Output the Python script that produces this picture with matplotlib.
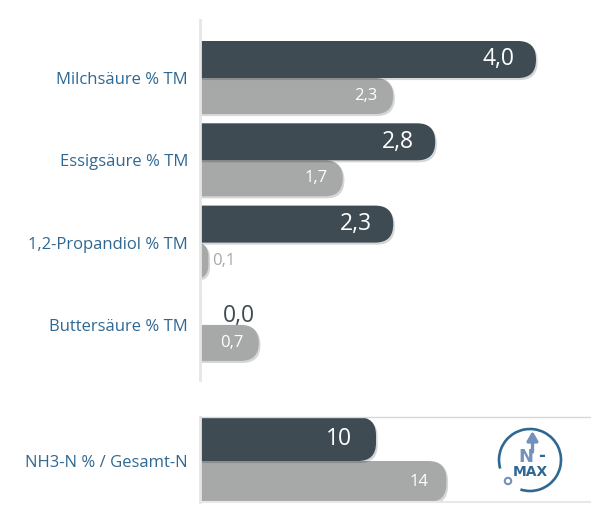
import matplotlib
matplotlib.use("Agg")
import matplotlib.pyplot as plt
import matplotlib.patheffects as pe
from matplotlib.patches import FancyBboxPatch, Arc, Circle

# data
categories = ["Milchsäure % TM", "Essigsäure % TM", "1,2-Propandiol % TM", "Buttersäure % TM"]
dark_values = [4.0, 2.8, 2.3, 0.0]
gray_values = [2.3, 1.7, 0.1, 0.7]

nh3_category = "NH3-N % / Gesamt-N"
nh3_dark = [10]
nh3_gray = [14]

# style
DARK = "#3e4b53"
GRAY = "#a7a9a9"
BLUE = "#2f6892"
LOGO_LIGHT = "#7391bb"
plt.rcParams["font.family"] = ["Open Sans", "DejaVu Sans"]

W, H, DPI = 591, 520, 100
fig = plt.figure(figsize=(W / DPI, H / DPI), dpi=DPI)
fig.patch.set_facecolor("white")


def fmt(v, decimals):
    return f"{v:.{decimals}f}".replace(".", ",")


def add_axes_px(left, top, right, bottom):
    return fig.add_axes([left / W, 1 - bottom / H, (right - left) / W, (bottom - top) / H])


def rounded_bar(ax, y0, height, value, color, px_x, px_y, r_px=18.0):
    # bar starts left of zero so the left rounding gets clipped by the axes
    start = -r_px / px_x
    width_px = value * px_x + r_px
    rr = min(r_px, width_px / 2, height * px_y / 2)
    patch = FancyBboxPatch(
        (start, y0), value - start, height,
        boxstyle=f"round,pad=0,rounding_size={rr / px_x}",
        mutation_aspect=px_x / px_y,
        facecolor=color, edgecolor="none", linewidth=0,
        path_effects=[pe.SimplePatchShadow(offset=(1.2, -1.5), shadow_rgbFace="black", alpha=0.16),
                      pe.Normal()],
    )
    ax.add_patch(patch)


def value_label(ax, value, y, text, inside_color, outside_color, size, inside_dx, outside_dx,
                outside_dy, px_x):
    if value * px_x < 30:
        ax.annotate(text, xy=(value, y), xytext=(outside_dx, outside_dy), textcoords="offset points",
                    ha="left", va="center", color=outside_color, fontsize=size, zorder=5)
    else:
        ax.annotate(text, xy=(value, y), xytext=(inside_dx, 0), textcoords="offset points",
                    ha="center", va="center", color=inside_color, fontsize=size, zorder=5)


def style_axes(ax):
    ax.set_facecolor("none")
    ax.set_xticks([])
    ax.tick_params(axis="y", length=0, pad=8.6, labelsize=12, labelcolor=BLUE)
    for side in ("top", "right", "bottom"):
        ax.spines[side].set_visible(False)
    ax.spines["left"].set_color("#e6e6e6")
    ax.spines["left"].set_linewidth(2)


# top panel
ax = add_axes_px(200, 20, 591, 380)
PX_X = 84.0
ROW_PX = 82.3
FIRST_ROW_PX = 58
ax.set_xlim(0, 391 / PX_X)
ax.set_ylim((360 - FIRST_ROW_PX) / ROW_PX, -FIRST_ROW_PX / ROW_PX)
h_dark = 37 / ROW_PX
h_gray = 36 / ROW_PX
centers = list(range(len(categories)))
for c, dv, gv in zip(centers, dark_values, gray_values):
    rounded_bar(ax, c, h_gray, gv, GRAY, PX_X, ROW_PX)
    rounded_bar(ax, c - h_dark, h_dark, dv, DARK, PX_X, ROW_PX)
    value_label(ax, dv, c - h_dark / 2, fmt(dv, 1), "white", DARK, 16.5, -27, 16.5, -7, PX_X)
    value_label(ax, gv, c + h_gray / 2, fmt(gv, 1), "white", GRAY, 12, -19.5, 3, 0, PX_X)
ax.set_yticks(centers, categories)
style_axes(ax)

# bottom panel
ax2 = add_axes_px(200, 417, 591, 502)
PX_X2 = 17.6
PX_Y2 = 85.0
ax2.set_xlim(0, 391 / PX_X2)
ax2.set_ylim(41 / PX_Y2, -44 / PX_Y2)
for dv, gv in zip(nh3_dark, nh3_gray):
    rounded_bar(ax2, 0, 41 / PX_Y2, gv, GRAY, PX_X2, PX_Y2)
    rounded_bar(ax2, -44 / PX_Y2, 44 / PX_Y2, dv, DARK, PX_X2, PX_Y2)
    value_label(ax2, dv, -22 / PX_Y2, str(dv), "white", DARK, 16.5, -27, 16.5, 0, PX_X2)
    value_label(ax2, gv, 20.5 / PX_Y2, str(gv), "white", GRAY, 12, -20, 3, 0, PX_X2)
ax2.set_yticks([0], [nh3_category])
style_axes(ax2)
ax2.spines["top"].set_visible(True)
ax2.spines["top"].set_color("#d8d8d8")
ax2.spines["top"].set_linewidth(1)
ax2.spines["bottom"].set_visible(True)
ax2.spines["bottom"].set_color("#e8e8e8")
ax2.spines["bottom"].set_linewidth(1.5)

# N-MAX logo
lg = add_axes_px(490, 420, 570, 500)
lg.set_xlim(-40, 40)
lg.set_ylim(-40, 40)
lg.axis("off")
lg.add_patch(Arc((0, 0), 62, 62, theta1=-108, theta2=196, color=BLUE, lw=1.9))
lg.add_patch(Circle((-22, -21), 3.2, facecolor="white", edgecolor=LOGO_LIGHT, lw=1.5))
lg.annotate("", xy=(2.5, 29), xytext=(2.5, 8),
            arrowprops=dict(arrowstyle="-|>,head_length=0.55,head_width=0.32", color=LOGO_LIGHT,
                            lw=2.4, shrinkA=0, shrinkB=0))
lg.text(-4, 2.5, "N", ha="center", va="center", color=LOGO_LIGHT, fontsize=13, fontweight="bold",
        family="DejaVu Sans")
lg.text(12, 4, "-", ha="center", va="center", color=BLUE, fontsize=12, fontweight="bold",
        family="DejaVu Sans")
lg.text(0, -12, "MAX", ha="center", va="center", color=BLUE, fontsize=10, fontweight="bold",
        family="DejaVu Sans")

fig.savefig("out.png", dpi=DPI, facecolor="white")
